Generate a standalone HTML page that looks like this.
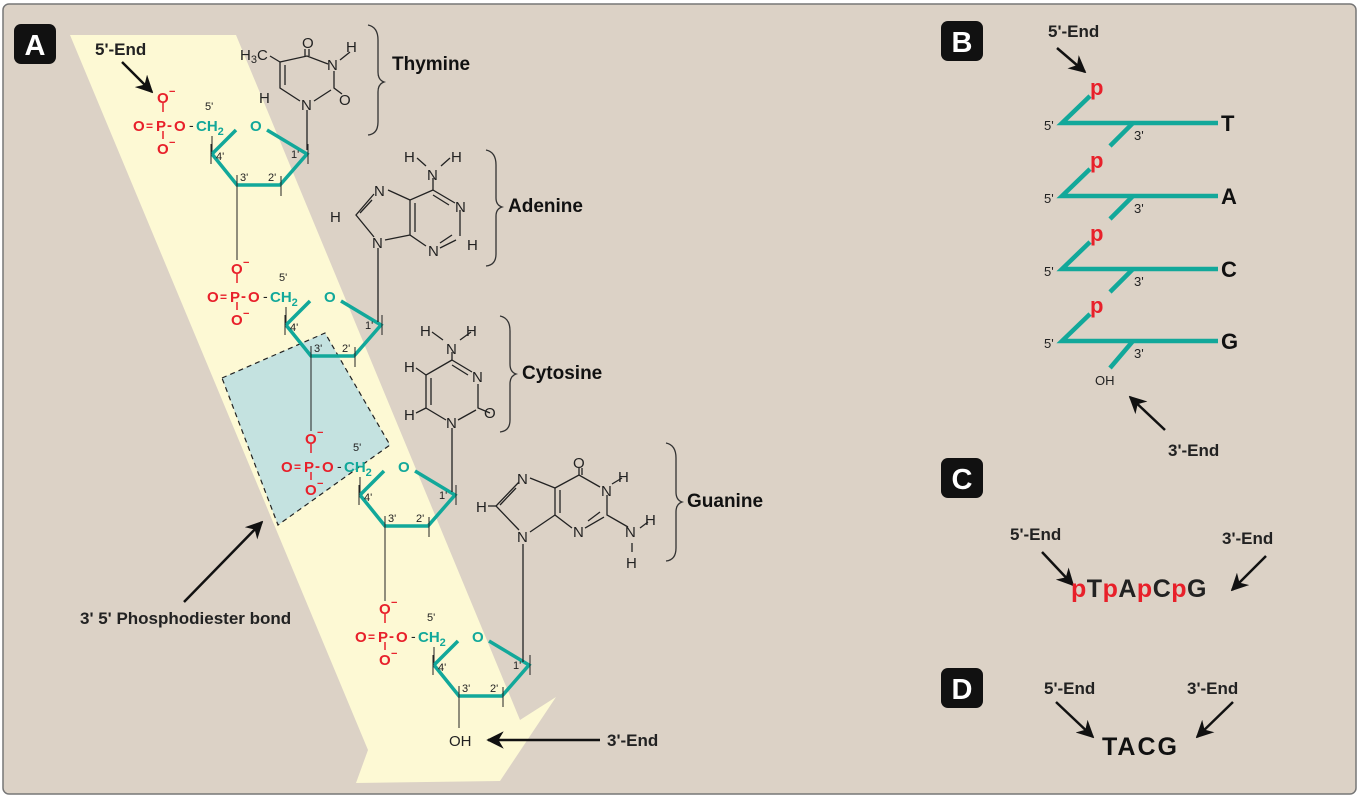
<!DOCTYPE html>
<html><head><meta charset="utf-8"><style>
html,body{margin:0;padding:0;background:#fff;}
svg{display:block;font-family:"Liberation Sans",Arial,sans-serif;}
.b{font-weight:bold;}
.red{fill:#e8202a;font-weight:bold;font-size:15px;}
.tl{fill:#12a89a;font-weight:bold;font-size:15px;}
.sm{font-size:11px;fill:#222;}
.at{font-size:15px;fill:#222;}
.lbl{font-size:19px;font-weight:900;fill:#111;}
</style></head><body>
<svg width="1360" height="799" viewBox="0 0 1360 799">
<defs>
<marker id="ar" viewBox="0 0 10 10" refX="9" refY="5" markerWidth="7" markerHeight="7" orient="auto"><path d="M0,0 L10,5 L0,10 L3,5 Z" fill="#111"/></marker>
<g id="nuc">
  <line x1="163" y1="103" x2="163" y2="112" stroke="#e8202a" stroke-width="1.5"/>
  <line x1="163" y1="131" x2="163" y2="139" stroke="#e8202a" stroke-width="1.5"/>
  <text x="157" y="103" class="red">O</text><text x="169" y="95" class="red" style="font-size:11px">−</text>
  <text x="133" y="131" class="red">O</text><text x="146" y="130" class="red" style="font-size:12px">=</text>
  <text x="156" y="131" class="red">P</text><text x="167" y="130" class="red">-</text>
  <text x="174" y="131" class="red">O</text>
  <text x="189" y="130" style="font-size:14px;fill:#222">-</text>
  <text x="157" y="154" class="red">O</text><text x="169" y="146" class="red" style="font-size:11px">−</text>
  <text x="196" y="131" class="tl">CH<tspan font-size="11" dy="4">2</tspan></text>
  <text x="205" y="110" class="sm">5'</text>
  <line x1="212" y1="136" x2="212" y2="154" stroke="#222" stroke-width="1"/>
  <polyline points="212,154 236,130" fill="none" stroke="#12a89a" stroke-width="3.5"/>
  <polyline points="267,130 307,154 280,185 237,185 212,154" fill="none" stroke="#12a89a" stroke-width="3.5"/>
  <text x="250" y="131" class="tl">O</text>
  <line x1="211" y1="144" x2="211" y2="164" stroke="#222" stroke-width="1"/>
  <line x1="308" y1="144" x2="308" y2="164" stroke="#222" stroke-width="1"/>
  <line x1="237" y1="175" x2="237" y2="195" stroke="#222" stroke-width="1"/>
  <line x1="281" y1="176" x2="281" y2="196" stroke="#222" stroke-width="1"/>
  <text x="216" y="160" class="sm">4'</text>
  <text x="291" y="158" class="sm">1'</text>
  <text x="240" y="181" class="sm">3'</text>
  <text x="268" y="181" class="sm">2'</text>
</g>
</defs>
<rect x="0" y="0" width="1360" height="799" fill="#ffffff"/>
<rect x="3" y="4" width="1353" height="790" rx="6" fill="#dcd2c6" stroke="#777" stroke-width="1.5"/>
<polygon points="70,35 236,35 520,720 556,697 500,781 356,783 368,750" fill="#fdf9d4"/>
<polygon points="222,378 325,333 390,445 278,525" fill="#c4e2e0" stroke="#222" stroke-width="1.2" stroke-dasharray="5,4"/>
<rect x="14" y="24" width="42" height="40" rx="7" fill="#111"/><text x="35" y="55" text-anchor="middle" style="font-size:29px;font-weight:bold;fill:#fff">A</text>
<rect x="941" y="21" width="42" height="40" rx="7" fill="#111"/><text x="962" y="52" text-anchor="middle" style="font-size:29px;font-weight:bold;fill:#fff">B</text>
<rect x="941" y="458" width="42" height="40" rx="7" fill="#111"/><text x="962" y="489" text-anchor="middle" style="font-size:29px;font-weight:bold;fill:#fff">C</text>
<rect x="941" y="668" width="42" height="40" rx="7" fill="#111"/><text x="962" y="699" text-anchor="middle" style="font-size:29px;font-weight:bold;fill:#fff">D</text>

<g stroke="#222" stroke-width="1">
<line x1="237" y1="195" x2="237" y2="260"/>
<line x1="311" y1="366" x2="311" y2="431"/>
<line x1="385" y1="536" x2="385" y2="601"/>
<line x1="459" y1="706" x2="459" y2="728"/>
</g>
<use href="#nuc"/>
<use href="#nuc" transform="translate(74,171)"/>
<use href="#nuc" transform="translate(148,341)"/>
<use href="#nuc" transform="translate(222,511)"/>
<text x="449" y="746" class="at">OH</text>

<text x="95" y="55" class="b" style="font-size:17px;fill:#222">5'-End</text>
<line x1="122" y1="62" x2="152" y2="92" stroke="#111" stroke-width="2.5" marker-end="url(#ar)"/>
<text x="80" y="624" class="b" style="font-size:17px;fill:#222">3' 5' Phosphodiester bond</text>
<line x1="184" y1="602" x2="262" y2="522" stroke="#111" stroke-width="2.5" marker-end="url(#ar)"/>
<text x="607" y="746" class="b" style="font-size:17px;fill:#222">3'-End</text>
<line x1="600" y1="740" x2="488" y2="740" stroke="#111" stroke-width="2.5" marker-end="url(#ar)"/>

<g stroke="#222" stroke-width="1.3" fill="none">
<!-- thymine -->
<line x1="305" y1="49" x2="305" y2="56"/><line x1="309" y1="49" x2="309" y2="56"/>
<polyline points="280,62 307,56 328,64"/>
<polyline points="334,71 334,88 342,94"/>
<polyline points="331,90 314,101"/>
<polyline points="300,101 280,88 280,62"/><line x1="285" y1="85" x2="285" y2="65"/>
<line x1="280" y1="62" x2="270" y2="56"/>
<line x1="340" y1="60" x2="350" y2="52"/>
<line x1="307" y1="110" x2="307" y2="150"/>
<!-- adenine -->
<polyline points="433,178 433,190 455,203"/>
<line x1="460" y1="210" x2="460" y2="236"/>
<polyline points="456,240 440,248"/><line x1="452" y1="235" x2="440" y2="243"/>
<polyline points="426,246 410,235 410,200 433,190"/><line x1="415" y1="232" x2="415" y2="203"/>
<line x1="433" y1="195" x2="449" y2="205"/>
<polyline points="410,200 388,190"/>
<polyline points="374,194 356,215 374,237"/><line x1="372" y1="200" x2="360" y2="213"/>
<line x1="385" y1="240" x2="410" y2="235"/>
<line x1="378" y1="248" x2="378" y2="322"/>
<line x1="417" y1="158" x2="426" y2="166"/><line x1="450" y1="158" x2="441" y2="166"/>
<!-- cytosine -->
<polyline points="452,352 452,360 472,372"/><line x1="452" y1="365" x2="468" y2="375"/>
<polyline points="478,384 478,408 490,413"/>
<polyline points="476,410 458,420"/>
<polyline points="446,420 426,408 426,375 452,360"/><line x1="431" y1="405" x2="431" y2="378"/>
<line x1="426" y1="375" x2="416" y2="368"/><line x1="426" y1="408" x2="416" y2="413"/>
<line x1="432" y1="332" x2="443" y2="340"/><line x1="471" y1="332" x2="460" y2="340"/>
<line x1="452" y1="428" x2="452" y2="492"/>
<!-- guanine -->
<line x1="579" y1="468" x2="579" y2="475"/><line x1="582" y1="468" x2="582" y2="475"/>
<polyline points="555,488 579,475 600,487"/>
<polyline points="607,495 607,515 628,527"/><line x1="612" y1="484" x2="622" y2="478"/>
<polyline points="604,517 585,528"/><line x1="600" y1="512" x2="588" y2="521"/>
<polyline points="572,528 555,515 555,488"/><line x1="560" y1="513" x2="560" y2="490"/>
<line x1="555" y1="488" x2="530" y2="478"/>
<polyline points="519,482 496,506 519,530"/><line x1="516" y1="488" x2="500" y2="505"/>
<line x1="530" y1="532" x2="555" y2="515"/>
<line x1="488" y1="506" x2="496" y2="506"/>
<line x1="640" y1="528" x2="648" y2="522"/><line x1="632" y1="543" x2="632" y2="552"/>
<line x1="523" y1="544" x2="523" y2="662"/>
</g>
<g class="at">
<text x="302" y="48" class="at">O</text><text x="327" y="70" class="at">N</text><text x="346" y="52" class="at">H</text>
<text x="339" y="105" class="at">O</text><text x="301" y="110" class="at">N</text><text x="259" y="103" class="at">H</text>
<text x="240" y="60" class="at">H<tspan font-size="11" dy="3">3</tspan><tspan dy="-3">C</tspan></text>
<text x="404" y="162" class="at">H</text><text x="427" y="180" class="at">N</text><text x="451" y="162" class="at">H</text>
<text x="455" y="212" class="at">N</text><text x="467" y="250" class="at">H</text><text x="428" y="256" class="at">N</text>
<text x="374" y="196" class="at">N</text><text x="330" y="222" class="at">H</text><text x="372" y="248" class="at">N</text>
<text x="420" y="336" class="at">H</text><text x="446" y="354" class="at">N</text><text x="466" y="336" class="at">H</text>
<text x="472" y="382" class="at">N</text><text x="484" y="418" class="at">O</text><text x="446" y="428" class="at">N</text>
<text x="404" y="372" class="at">H</text><text x="404" y="420" class="at">H</text>
<text x="573" y="468" class="at">O</text><text x="601" y="496" class="at">N</text><text x="618" y="482" class="at">H</text>
<text x="573" y="537" class="at">N</text><text x="625" y="537" class="at">N</text><text x="645" y="525" class="at">H</text><text x="626" y="568" class="at">H</text>
<text x="517" y="484" class="at">N</text><text x="517" y="542" class="at">N</text><text x="476" y="512" class="at">H</text>
</g>
<g stroke="#333" stroke-width="1.3" fill="none">
<path d="M368,25 Q378,27 378,40 L378,72 Q378,80 384,82 Q378,84 378,92 L378,122 Q378,134 368,135"/>
<path d="M486,150 Q496,152 496,165 L496,198 Q496,205 502,207 Q496,209 496,216 L496,254 Q496,265 486,266"/>
<path d="M500,316 Q510,318 510,331 L510,364 Q510,372 516,374 Q510,376 510,384 L510,420 Q510,431 500,432"/>
<path d="M666,443 Q676,445 676,458 L676,492 Q676,500 682,502 Q676,504 676,512 L676,548 Q676,560 666,561"/>
</g>
<text x="392" y="70" class="lbl">Thymine</text>
<text x="508" y="212" class="lbl">Adenine</text>
<text x="522" y="379" class="lbl">Cytosine</text>
<text x="687" y="507" class="lbl">Guanine</text>

<text x="1048" y="37" class="b" style="font-size:17px;fill:#222">5'-End</text>
<line x1="1057" y1="48" x2="1085" y2="72" stroke="#111" stroke-width="2.5" marker-end="url(#ar)"/>
<g stroke="#12a89a" stroke-width="4.5" fill="none">
<polyline points="1090,96 1062,123 1218,123"/>
<line x1="1133" y1="123" x2="1110" y2="146"/>
<polyline points="1090,169 1062,196 1218,196"/>
<line x1="1133" y1="196" x2="1110" y2="219"/>
<polyline points="1090,242 1062,269 1218,269"/>
<line x1="1133" y1="269" x2="1110" y2="292"/>
<polyline points="1090,314 1062,341 1218,341"/>
<line x1="1133" y1="341" x2="1110" y2="368"/>
</g>
<g style="font-size:22px;font-weight:bold;fill:#e8202a">
<text x="1090" y="95">p</text><text x="1090" y="168">p</text><text x="1090" y="241">p</text><text x="1090" y="313">p</text>
</g>
<g class="sm" style="font-size:13px">
<text x="1044" y="130">5'</text><text x="1044" y="203">5'</text><text x="1044" y="276">5'</text><text x="1044" y="348">5'</text>
<text x="1134" y="140">3'</text><text x="1134" y="213">3'</text><text x="1134" y="286">3'</text><text x="1134" y="358">3'</text>
<text x="1095" y="385">OH</text>
</g>
<g style="font-size:22px;font-weight:900;fill:#111">
<text x="1221" y="131">T</text><text x="1221" y="204">A</text><text x="1221" y="277">C</text><text x="1221" y="349">G</text>
</g>
<line x1="1165" y1="430" x2="1130" y2="397" stroke="#111" stroke-width="2.5" marker-end="url(#ar)"/>
<text x="1168" y="456" class="b" style="font-size:17px;fill:#222">3'-End</text>

<text x="1010" y="540" class="b" style="font-size:17px;fill:#222">5'-End</text>
<text x="1222" y="544" class="b" style="font-size:17px;fill:#222">3'-End</text>
<line x1="1042" y1="552" x2="1073" y2="585" stroke="#111" stroke-width="2.5" marker-end="url(#ar)"/>
<line x1="1266" y1="556" x2="1232" y2="590" stroke="#111" stroke-width="2.5" marker-end="url(#ar)"/>
<text x="1071" y="597" style="font-size:25px;font-weight:bold;fill:#222;letter-spacing:0.5px"><tspan fill="#e8202a">p</tspan>T<tspan fill="#e8202a">p</tspan>A<tspan fill="#e8202a">p</tspan>C<tspan fill="#e8202a">p</tspan>G</text>

<text x="1044" y="694" class="b" style="font-size:17px;fill:#222">5'-End</text>
<text x="1187" y="694" class="b" style="font-size:17px;fill:#222">3'-End</text>
<line x1="1056" y1="702" x2="1093" y2="737" stroke="#111" stroke-width="2.5" marker-end="url(#ar)"/>
<line x1="1233" y1="702" x2="1197" y2="737" stroke="#111" stroke-width="2.5" marker-end="url(#ar)"/>
<text x="1102" y="755" style="font-size:25px;font-weight:900;fill:#111;letter-spacing:2px">TACG</text>
</svg>
</body></html>
